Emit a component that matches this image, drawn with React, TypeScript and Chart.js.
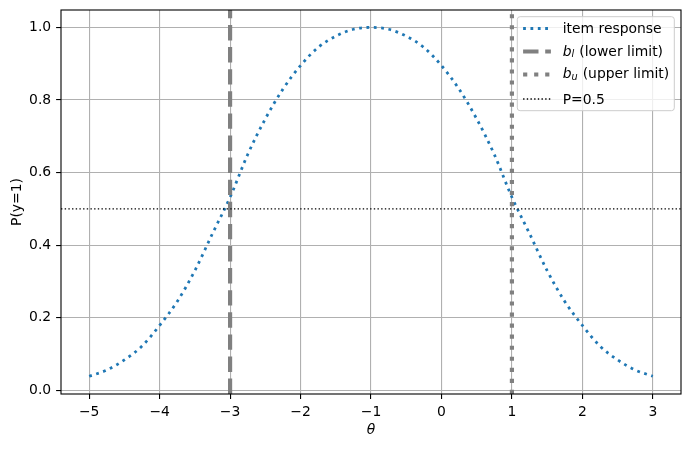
import React, { useEffect, useRef } from "react";
import { Chart, registerables } from "chart.js";

Chart.register(...registerables);

// ---- data ----
const thetaValues = [
  -5, -4.75, -4.5, -4.25, -4, -3.75, -3.5, -3.25, -3, -2.75, -2.5, -2.25, -2, -1.75, -1.5, -1.25,
  -1, -0.75, -0.5, -0.25, 0, 0.25, 0.5, 0.75, 1, 1.25, 1.5, 1.75, 2, 2.25, 2.5, 2.75, 3,
];
const responseValues = [
  0.039, 0.056, 0.084, 0.122, 0.179, 0.245, 0.33, 0.432, 0.532, 0.65, 0.748, 0.83, 0.895, 0.945, 0.976, 0.995,
  1.0, 0.995, 0.976, 0.945, 0.895, 0.83, 0.748, 0.65, 0.532, 0.432, 0.33, 0.245, 0.179, 0.122, 0.084, 0.056, 0.039,
];
const lowerLimit = -3;
const upperLimit = 1;
const halfLevel = 0.5;
const xTickValues = [-5, -4, -3, -2, -1, 0, 1, 2, 3];
const yTickValues = [0, 0.2, 0.4, 0.6, 0.8, 1.0];
const xRange = [-5.4, 3.4];
const yRange = [-0.01, 1.048];
const xAxisTitle = "θ";
const yAxisTitle = "P(y=1)";

const FONT = '"DejaVu Sans"';
const FS = 13.9;

type LegendEntry = {
  main: string;
  sub?: string;
  rest: string;
  color: string;
  width: number;
  dash: number[];
};

const legendEntries: LegendEntry[] = [
  { main: "item response", rest: "", color: "#1f77b4", width: 2.78, dash: [2.78, 4.58] },
  { main: "b", sub: "l", rest: " (lower limit)", color: "#808080", width: 4.17, dash: [15.4, 6.7] },
  { main: "b", sub: "u", rest: " (upper limit)", color: "#808080", width: 4.17, dash: [4.17, 6.88] },
  { main: "P=0.5", rest: "", color: "#000000", width: 1.39, dash: [1.39, 2.29] },
];

const spinePlugin = {
  id: "spines",
  afterDatasetsDraw(chart: any) {
    const { ctx, chartArea } = chart;
    ctx.save();
    ctx.strokeStyle = "#000";
    ctx.lineWidth = 1.1;
    ctx.setLineDash([]);
    ctx.strokeRect(chartArea.left, chartArea.top, chartArea.right - chartArea.left, chartArea.bottom - chartArea.top);
    ctx.restore();
  },
};

const legendPlugin = {
  id: "mplLegend",
  afterDraw(chart: any) {
    const { ctx, chartArea } = chart;
    const right = chartArea.right - 6.7;
    const top = chartArea.top + 6.7;
    const w = 157;
    const h = 94;
    const left = right - w;
    const r = 2.8;
    ctx.save();
    ctx.beginPath();
    ctx.moveTo(left + r, top);
    ctx.lineTo(left + w - r, top);
    ctx.arcTo(left + w, top, left + w, top + r, r);
    ctx.lineTo(left + w, top + h - r);
    ctx.arcTo(left + w, top + h, left + w - r, top + h, r);
    ctx.lineTo(left + r, top + h);
    ctx.arcTo(left, top + h, left, top + h - r, r);
    ctx.lineTo(left, top + r);
    ctx.arcTo(left, top, left + r, top, r);
    ctx.closePath();
    ctx.fillStyle = "rgba(255,255,255,0.8)";
    ctx.fill();
    ctx.strokeStyle = "#cccccc";
    ctx.lineWidth = 1;
    ctx.stroke();

    const handleY = [11.8, 34.8, 57.8, 82.3];
    const textY = [15.8, 39.0, 61.0, 87.3];
    const hx = left + 5.8;
    const hl = 27.8;
    const tx = left + 45.4;
    legendEntries.forEach((e, i) => {
      ctx.beginPath();
      ctx.setLineDash(e.dash);
      ctx.lineDashOffset = 0;
      ctx.lineCap = "butt";
      ctx.strokeStyle = e.color;
      ctx.lineWidth = e.width;
      ctx.moveTo(hx, top + handleY[i]);
      ctx.lineTo(hx + hl, top + handleY[i]);
      ctx.stroke();
      ctx.setLineDash([]);

      ctx.fillStyle = "#000";
      ctx.textBaseline = "alphabetic";
      ctx.textAlign = "left";
      let x = tx;
      const y = top + textY[i];
      if (e.sub) {
        ctx.font = `italic ${FS}px ${FONT}`;
        ctx.fillText(e.main, x, y);
        x += ctx.measureText(e.main).width;
        ctx.font = `italic ${FS * 0.7}px ${FONT}`;
        const shift = e.sub === "u" ? 2.5 : 1.5;
        ctx.fillText(e.sub, x, y + shift);
        x += ctx.measureText(e.sub).width + 0.6;
      } else {
        ctx.font = `${FS}px ${FONT}`;
        ctx.fillText(e.main, x, y);
        x += ctx.measureText(e.main).width;
      }
      if (e.rest) {
        ctx.font = `${FS}px ${FONT}`;
        ctx.fillText(e.rest, x, y);
      }
    });
    ctx.restore();
  },
};

function fmtX(v: number) {
  return String(v).replace("-", "\u2212");
}

export default function App() {
  const canvasRef = useRef<HTMLCanvasElement | null>(null);

  useEffect(() => {
    if (!canvasRef.current) return;
    Chart.defaults.font.family = FONT;
    Chart.defaults.font.size = FS;
    Chart.defaults.color = "#000";

    const curve = thetaValues.map((t, i) => ({ x: t, y: responseValues[i] }));

    const chart = new Chart(canvasRef.current, {
      type: "line",
      data: {
        datasets: [
          {
            label: "item response",
            data: curve,
            borderColor: "#1f77b4",
            borderWidth: 2.78,
            borderDash: [2.78, 4.58],
            pointRadius: 0,
            cubicInterpolationMode: "monotone",
            fill: false,
            clip: 0,
            order: 4,
          },
          {
            label: "b_l (lower limit)",
            data: [
              { x: lowerLimit, y: yRange[0] },
              { x: lowerLimit, y: yRange[1] },
            ],
            borderColor: "#808080",
            borderWidth: 4.17,
            borderDash: [15.4, 6.7],
            pointRadius: 0,
            fill: false,
            clip: 0,
            order: 3,
          },
          {
            label: "b_u (upper limit)",
            data: [
              { x: upperLimit, y: yRange[0] },
              { x: upperLimit, y: yRange[1] },
            ],
            borderColor: "#808080",
            borderWidth: 4.17,
            borderDash: [4.17, 6.88],
            pointRadius: 0,
            fill: false,
            clip: 0,
            order: 2,
          },
          {
            label: "P=0.5",
            data: [
              { x: xRange[0], y: halfLevel },
              { x: xRange[1], y: halfLevel },
            ],
            borderColor: "#000000",
            borderWidth: 1.39,
            borderDash: [1.39, 2.29],
            pointRadius: 0,
            fill: false,
            clip: 0,
            order: 1,
          },
        ],
      } as any,
      options: {
        animation: false,
        responsive: false,
        devicePixelRatio: 1,
        layout: { padding: { left: 0, right: 10, top: 10, bottom: 0 } },
        plugins: { legend: { display: false }, tooltip: { enabled: false } },
        scales: {
          x: {
            type: "linear",
            min: xRange[0],
            max: xRange[1],
            afterBuildTicks: (scale: any) => {
              scale.ticks = xTickValues.map((v) => ({ value: v }));
            },
            afterFit: (scale: any) => {
              scale.height = 55;
              scale.paddingLeft = 0;
              scale.paddingRight = 0;
            },
            ticks: {
              callback: (v: any) => fmtX(Number(v)),
              padding: 5.5,
              maxRotation: 0,
              autoSkip: false,
              color: "#000",
              font: { size: FS, family: FONT },
            },
            grid: {
              color: "#b0b0b0",
              lineWidth: 1.1,
              tickColor: "#000",
              tickLength: 4.9,
              tickWidth: 1.1,
            },
            border: { display: false },
            title: {
              display: true,
              text: xAxisTitle,
              color: "#000",
              font: { size: FS, family: FONT, style: "italic", lineHeight: 1 },
              padding: { top: 0, bottom: 11.5 },
            },
          },
          y: {
            type: "linear",
            min: yRange[0],
            max: yRange[1],
            afterBuildTicks: (scale: any) => {
              scale.ticks = yTickValues.map((v) => ({ value: v }));
            },
            afterFit: (scale: any) => {
              scale.width = 61;
              scale.paddingTop = 0;
              scale.paddingBottom = 0;
            },
            ticks: {
              callback: (v: any) => Number(v).toFixed(1),
              padding: 4.9,
              autoSkip: false,
              color: "#000",
              font: { size: FS, family: FONT },
            },
            grid: {
              color: "#b0b0b0",
              lineWidth: 1.1,
              tickColor: "#000",
              tickLength: 4.9,
              tickWidth: 1.1,
            },
            border: { display: false },
            title: {
              display: true,
              text: yAxisTitle,
              color: "#000",
              font: { size: FS, family: FONT, lineHeight: 1 },
              padding: { top: 10, bottom: 0 },
            },
          },
        },
      } as any,
      plugins: [spinePlugin, legendPlugin],
    });

    return () => chart.destroy();
  }, []);

  return (
    <div style={{ position: "absolute", left: 0, top: 0, width: 691, height: 449, background: "#fff" }}>
      <canvas ref={canvasRef} width={691} height={449} style={{ display: "block" }} />
    </div>
  );
}
